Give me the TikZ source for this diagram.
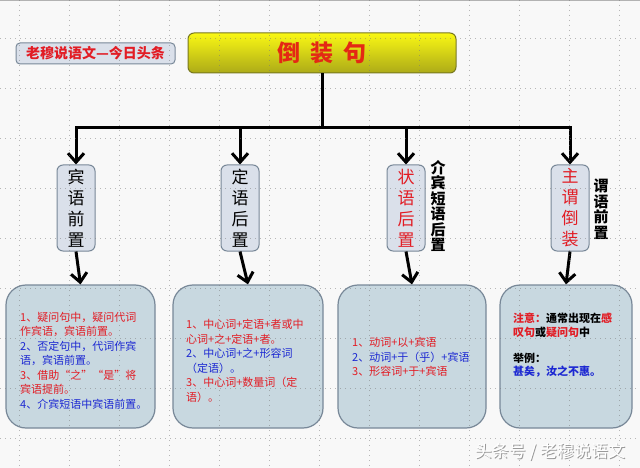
\documentclass[tikz,border=0pt]{standalone}
\usepackage{fontspec}
\setmainfont{Noto Sans CJK SC}
\usetikzlibrary{arrows.meta}
\definecolor{bgc}{RGB}{248,248,248}
\definecolor{tred}{RGB}{226,28,36}
\definecolor{tblue}{RGB}{28,40,210}
\definecolor{boxfill}{RGB}{200,216,224}
\definecolor{boxline}{RGB}{120,136,152}
\definecolor{vfill}{RGB}{218,224,234}
\definecolor{ytop}{RGB}{250,248,20}
\definecolor{ybot}{RGB}{172,170,24}
\definecolor{yline}{RGB}{120,120,30}
\definecolor{gridc}{RGB}{120,120,120}
\tikzset{
  ln/.style={line width=3pt, black},
  arr/.style={line width=3pt, black, line join=miter, -{Straight Barb[length=9pt,width=16pt,line width=3pt]}},
  vbox/.style={draw=boxline, fill=vfill, line width=1pt, rounded corners=6pt, minimum width=38pt, minimum height=86pt, align=center, inner sep=0pt, font=\fontsize{17}{21}\selectfont},
  side/.style={align=center, inner sep=0pt, font=\bfseries\fontsize{15}{15.5}\selectfont},
  bbox/.style={draw=boxline, fill=boxfill, line width=1.2pt, rounded corners=20pt, minimum height=143pt},
  btxt/.style={anchor=west, align=left, inner sep=0pt, font=\fontsize{11}{14.5}\selectfont},
  grid/.style={gridc, line width=0.8pt, dash pattern=on 0.8pt off 4.2pt, opacity=0.5}
}
\begin{document}
\begin{tikzpicture}[x=1pt,y=-1pt]
\useasboundingbox (0,0) rectangle (640,468);
\fill[bgc] (0,0) rectangle (640,468);
\draw[gray!60, line width=1.5pt] (0,0.75) -- (640,0.75);

% title
\node[draw=boxline, fill=vfill, line width=1pt, rounded corners=4pt, minimum width=159pt, minimum height=21pt, inner sep=0pt, text=tred, font=\bfseries\fontsize{14}{14}\selectfont] (title) at (95.5,53.5) {老穆说语文—今日头条};

% top box
\node[draw=yline, line width=1pt, rounded corners=6pt, top color=ytop, bottom color=ybot, minimum width=268pt, minimum height=40pt, inner sep=0pt, text={rgb,255:red,228;green,40;blue,20}, font=\bfseries\fontsize{23}{23}\selectfont] (top) at (322,53) {倒\hspace{0.45em}装\hspace{0.45em}句};

% vertical boxes
\node[vbox] (v1) at (76,208) {宾\\语\\前\\置};
\node[vbox] (v2) at (240,208) {定\\语\\后\\置};
\node[vbox, text=tred] (v3) at (406,208) {状\\语\\后\\置};
\node[vbox, text=tred] (v4) at (570,208) {主\\谓\\倒\\装};

\node[side] (s3) at (438,206) {介\\宾\\短\\语\\后\\置};
\node[side] (s4) at (601,209) {谓\\语\\前\\置};

% bottom boxes
\node[bbox, minimum width=149pt] (b1) at (80.5,356.5) {};
\node[bbox, minimum width=150pt] (b2) at (248,356.5) {};
\node[bbox, minimum width=148pt] (b3) at (412,356.5) {};
\node[bbox, minimum width=132pt] (b4) at (566,356.5) {};

% connectors
\coordinate (j) at (322,128);
\draw[ln] (top.south) -- (j);
\draw[arr] (j) -| (v1.north);
\draw[arr] (j) -| (v4.north);
\draw[arr] (v2.north |- j) -- (v2.north);
\draw[arr] (v3.north |- j) -- (v3.north);
\draw[arr] (v1.south) -- (b1.north);
\draw[arr] (v2.south) -- (b2.north);
\draw[arr] (v3.south) -- (b3.north);
\draw[arr] (v4.south) -- (b4.north);

% box texts
\node[btxt] (t1) at (20,360.5) {\textcolor{tred}{1、疑问句中，疑问代词}\\\textcolor{tred}{作宾语，宾语前置。}\\\textcolor{tblue}{2、否定句中，代词作宾}\\\textcolor{tblue}{语，宾语前置。}\\\textcolor{tred}{3、借助“之”“是”将}\\\textcolor{tred}{宾语提前。}\\\textcolor{tblue}{4、介宾短语中宾语前置。}};
\node[btxt] (t2) at (186,361) {\textcolor{tred}{1、中心词+定语+者或中}\\\textcolor{tred}{心词+之+定语+者。}\\\textcolor{tblue}{2、中心词+之+形容词}\\\textcolor{tblue}{（定语）。}\\\textcolor{tred}{3、中心词+数量词（定}\\\textcolor{tred}{语）。}};
\node[btxt] (t3) at (352,357) {\textcolor{tred}{1、动词+以+宾语}\\\textcolor{tblue}{2、动词+于（乎）+宾语}\\\textcolor{tred}{3、形容词+于+宾语}};
\node[btxt, font=\bfseries\fontsize{11}{13.25}\selectfont] (t4) at (513,345.5) {\textcolor{tred}{注意：}通常出现在\textcolor{tred}{感}\\\textcolor{tred}{叹句}或\textcolor{tred}{疑问句}中\\[0pt]\mbox{}\\举例：\\\textcolor{tblue}{甚矣，汝之不惠。}};

% grid
\foreach \yy in {38,88,...,438} \draw[grid] (0,\yy) -- (640,\yy);
\foreach \xx in {19,69,...,619} \draw[grid] (\xx,0) -- (\xx,468);

% watermark
\node[text=gray!80, font=\fontsize{17}{17}\selectfont] (wms) at (551,453) {头条号 / 老穆说语文};
\node[text=white, font=\fontsize{17}{17}\selectfont] (wm) at (550,452) {头条号 / 老穆说语文};
\end{tikzpicture}
\end{document}
